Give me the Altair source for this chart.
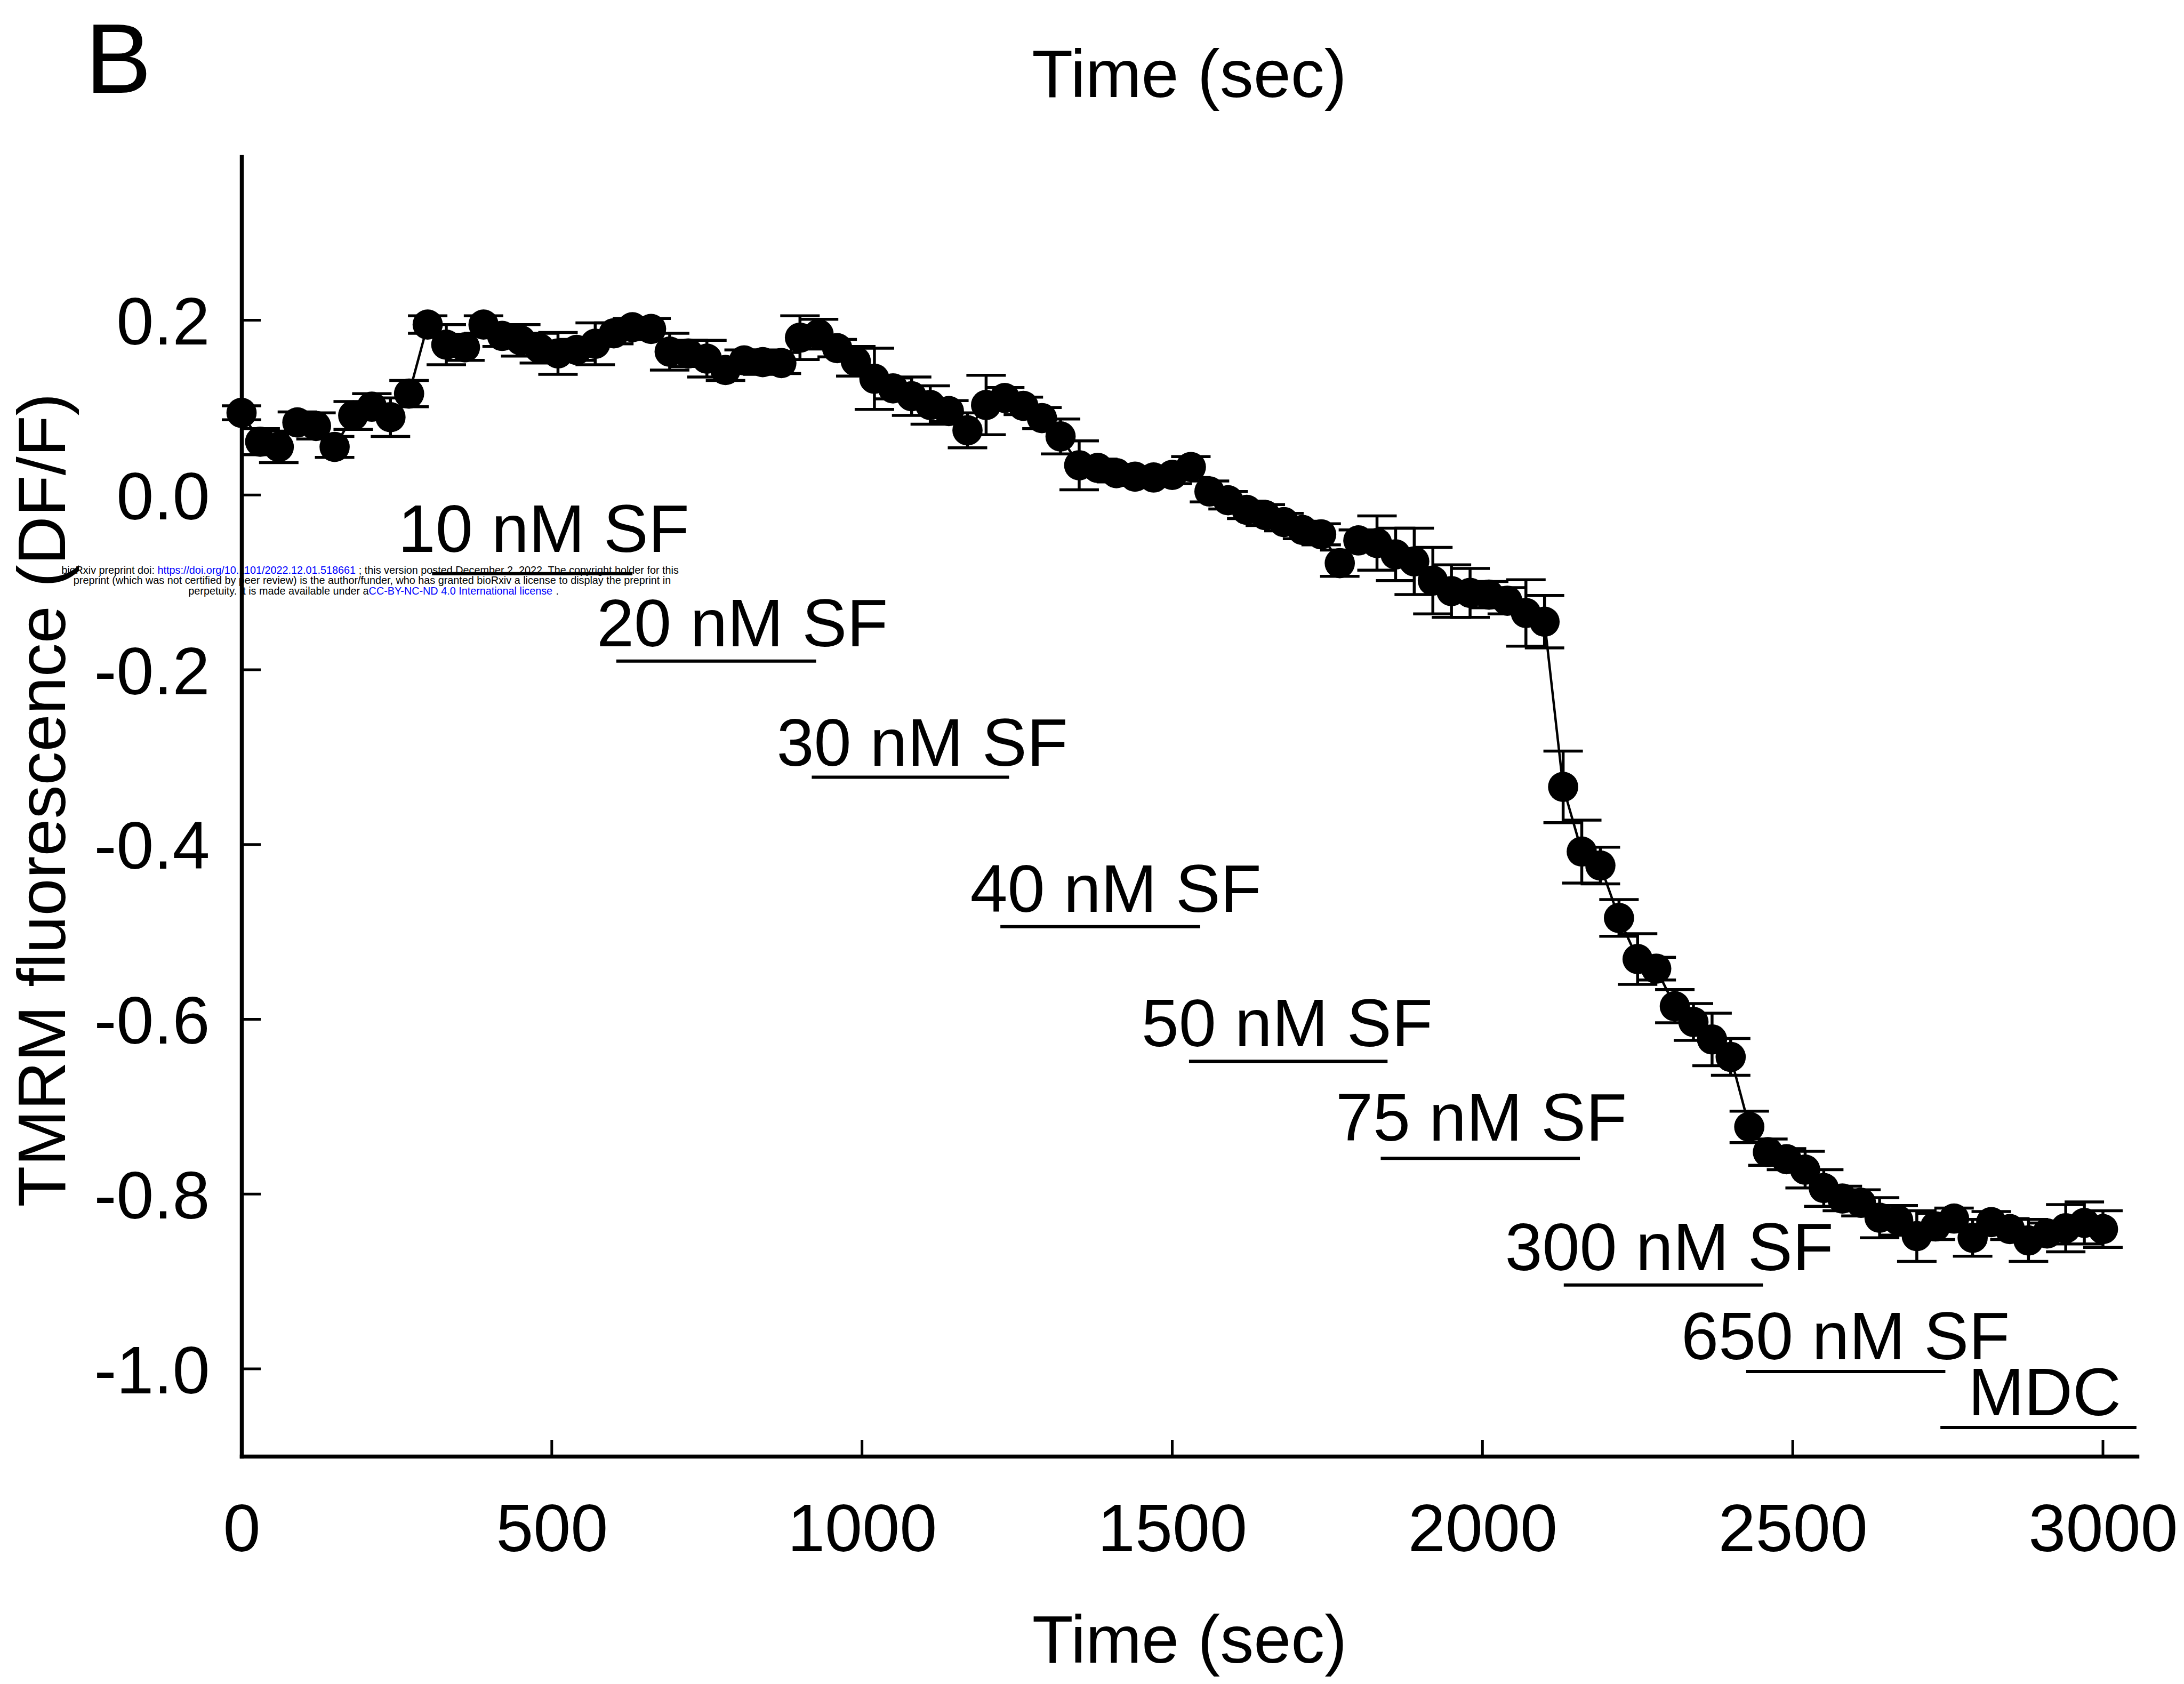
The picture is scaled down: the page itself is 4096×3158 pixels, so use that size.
import altair as alt
import pandas as pd

FONT = "Liberation Sans"
W, H = 3555, 2437

# ---------------- data ----------------
time_s = [0, 30, 60, 90, 120, 150, 180, 210, 240, 270,
          300, 330, 360, 390, 420, 450, 480, 510, 540, 570,
          600, 630, 660, 690, 720, 750, 780, 810, 840, 870,
          900, 930, 960, 990, 1020, 1050, 1080, 1110, 1140, 1170,
          1200, 1230, 1260, 1290, 1320, 1350, 1380, 1410, 1440, 1470,
          1500, 1530, 1560, 1590, 1620, 1650, 1680, 1710, 1740, 1770,
          1800, 1830, 1860, 1890, 1920, 1950, 1980, 2010, 2040, 2070,
          2100, 2130, 2160, 2190, 2220, 2250, 2280, 2310, 2340, 2370,
          2400, 2430, 2460, 2490, 2520, 2550, 2580, 2610, 2640, 2670,
          2700, 2730, 2760, 2790, 2820, 2850, 2880, 2910, 2940, 2970,
          3000]

dff = [0.094, 0.061, 0.055, 0.083, 0.079, 0.055, 0.091, 0.101, 0.089, 0.116,
       0.195, 0.172, 0.169, 0.195, 0.182, 0.177, 0.168, 0.162, 0.166, 0.173,
       0.185, 0.192, 0.190, 0.164, 0.162, 0.156, 0.143, 0.154, 0.152, 0.151,
       0.180, 0.184, 0.168, 0.153, 0.133, 0.122, 0.113, 0.103, 0.096, 0.074,
       0.103, 0.111, 0.102, 0.088, 0.067, 0.034, 0.031, 0.025, 0.021, 0.020,
       0.023, 0.032, 0.004, -0.006, -0.017, -0.023, -0.031, -0.040, -0.045, -0.078,
       -0.052, -0.055, -0.068, -0.076, -0.098, -0.110, -0.112, -0.114, -0.121, -0.135,
       -0.145, -0.334, -0.408, -0.424, -0.484, -0.531, -0.542, -0.585, -0.603, -0.623,
       -0.643, -0.723, -0.752, -0.760, -0.772, -0.793, -0.805, -0.810, -0.827, -0.830,
       -0.848, -0.837, -0.828, -0.850, -0.832, -0.840, -0.853, -0.845, -0.839, -0.833,
       -0.840]

sem = [0.008, 0.015, 0.018, 0.012, 0.015, 0.012, 0.016, 0.015, 0.022, 0.015,
       0.010, 0.023, 0.015, 0.010, 0.012, 0.018, 0.017, 0.024, 0.012, 0.024,
       0.012, 0.010, 0.012, 0.021, 0.015, 0.021, 0.012, 0.012, 0.014, 0.012,
       0.025, 0.017, 0.010, 0.017, 0.035, 0.012, 0.022, 0.022, 0.012, 0.020,
       0.034, 0.012, 0.010, 0.012, 0.020, 0.028, 0.010, 0.010, 0.010, 0.010,
       0.010, 0.012, 0.012, 0.010, 0.010, 0.012, 0.010, 0.010, 0.012, 0.015,
       0.012, 0.031, 0.030, 0.038, 0.038, 0.030, 0.028, 0.015, 0.015, 0.038,
       0.030, 0.041, 0.036, 0.021, 0.021, 0.029, 0.013, 0.019, 0.021, 0.030,
       0.021, 0.018, 0.015, 0.012, 0.021, 0.021, 0.014, 0.015, 0.023, 0.017,
       0.029, 0.015, 0.012, 0.021, 0.012, 0.012, 0.024, 0.012, 0.027, 0.024,
       0.021]

ann_text = ["10 nM SF", "20 nM SF", "30 nM SF", "40 nM SF", "50 nM SF",
            "75 nM SF", "300 nM SF", "650 nM SF", "MDC"]
ann_tx = [487, 807, 1097, 1409, 1685, 1998, 2301, 2585, 2906]
ann_ty = [-0.065, -0.173, -0.310, -0.477, -0.631, -0.739, -0.887, -0.989, -1.053]
bar_start = [307, 604, 919, 1223, 1527, 1836, 2131, 2425, 2738]
bar_end = [630, 926, 1237, 1545, 1847, 2157, 2452, 2746, 3054]
bar_y = [-0.090, -0.190, -0.323, -0.494, -0.648, -0.759, -0.904, -1.003, -1.067]

x_ticks = [0, 500, 1000, 1500, 2000, 2500, 3000]
y_ticks = [-1.0, -0.8, -0.6, -0.4, -0.2, 0.0, 0.2]

assert len(time_s) == len(dff) == len(sem)

df = pd.DataFrame({"t": time_s, "v": dff, "e": sem})
df["lo"] = df["v"] - df["e"]
df["hi"] = df["v"] + df["e"]
ann_df = pd.DataFrame({"label": ann_text, "tx": ann_tx, "ty": ann_ty})
bar_df = pd.DataFrame({"t1": bar_start, "t2": bar_end, "by": bar_y})
xt_df = pd.DataFrame({"xt": x_ticks})
yt_df = pd.DataFrame({"yt": y_ticks})

# ---------------- scales & axes ----------------
x_scale = alt.Scale(domain=[0, 3055], nice=False, zero=False)
y_scale = alt.Scale(domain=[-1.1, 0.387], nice=False, zero=False)

x_axis = alt.Axis(values=x_ticks, format="d", labelFont=FONT, labelFontSize=126,
                  labelColor="black", labelPadding=77, labelFlush=False,
                  labelOverlap=False, labelLimit=0, ticks=False, tickSize=0,
                  domainColor="black", domainWidth=7.5, domainCap="square",
                  grid=False, title="Time (sec)", titleFont=FONT,
                  titleFontSize=126, titleFontWeight="normal", titleColor="black",
                  titleX=W / 2, titleY=386, titleAlign="center",
                  titleBaseline="alphabetic", titleLimit=0, zindex=1)
y_axis = alt.Axis(values=y_ticks,
                  labelExpr="(datum.value < -0.0001 ? '-' : '') + format(abs(datum.value), '.1f')",
                  labelFont=FONT, labelFontSize=126, labelColor="black",
                  labelPadding=60, labelOffset=7, labelFlush=False,
                  labelOverlap=False, labelLimit=0, ticks=False, tickSize=0,
                  domainColor="black", domainWidth=7.5, domainCap="square",
                  grid=False, title="TMRM fluorescence (DF/F)", titleFont=FONT,
                  titleFontSize=126, titleFontWeight="normal", titleColor="black",
                  titleAngle=270, titleX=-332, titleY=1206, titleAlign="center",
                  titleBaseline="alphabetic", titleLimit=0, zindex=1)


def X(f):
    return alt.X(f, type="quantitative", scale=x_scale, axis=x_axis)


def Y(f):
    return alt.Y(f, type="quantitative", scale=y_scale, axis=y_axis)


# ---------------- pixel positioned texts ----------------
def ptext(txt, x, y, size, color="black", align="left"):
    return alt.Chart(pd.DataFrame({"s": [txt]})).mark_text(
        font=FONT, fontSize=size, color=color, align=align,
        baseline="alphabetic", limit=0
    ).encode(x=alt.value(x), y=alt.value(y), text="s:N")


wm = [
    ptext("bioRxiv preprint doi:", -163, 781.6, 19.8, align="right"),
    ptext("https://doi.org/10.1101/2022.12.01.518661", -157.5, 781.6, 19.8, color="#0000ff"),
    ptext("; this version posted December 2, 2022. The copyright holder for this", 219.8, 781.6, 19.8),
    ptext("preprint (which was not certified by peer review) is the author/funder, who has granted bioRxiv a license to display the preprint in",
          245, 801.3, 19.8, align="center"),
    ptext("perpetuity. It is made available under a", 238.6, 821.1, 19.8, align="right"),
    ptext("CC-BY-NC-ND 4.0 International license", 238.6, 821.1, 19.8, color="#0000ff"),
    ptext(".", 589.6, 821.1, 19.8),
]

# ---------------- data layers ----------------
bars = alt.Chart(bar_df).mark_rule(color="black", strokeWidth=6).encode(
    x=X("t1"), x2="t2", y=Y("by"))
labels = alt.Chart(ann_df).mark_text(font=FONT, fontSize=126, color="black",
                                     align="center", baseline="alphabetic").encode(
    x=X("tx"), y=Y("ty"), text="label:N")

base = alt.Chart(df)
stems = base.mark_rule(color="black", strokeWidth=5.5).encode(x=X("t"), y=Y("lo"), y2="hi")
cap_lo = base.mark_tick(color="black", orient="horizontal", size=74, thickness=5.5,
                        opacity=1).encode(x=X("t"), y=Y("lo"))
cap_hi = base.mark_tick(color="black", orient="horizontal", size=74, thickness=5.5,
                        opacity=1).encode(x=X("t"), y=Y("hi"))
line = base.mark_line(color="black", strokeWidth=4.5).encode(x=X("t"), y=Y("v"))
pts = base.mark_circle(color="black", size=3217, opacity=1).encode(x=X("t"), y=Y("v"))

xticks = alt.Chart(xt_df).mark_rule(color="black", strokeWidth=5).encode(
    x=X("xt"), y=alt.value(H - 31), y2=alt.value(H))
yticks = alt.Chart(yt_df).mark_rule(color="black", strokeWidth=5).encode(
    y=Y("yt"), x=alt.value(0), x2=alt.value(36))

top_title = ptext("Time (sec)", W / 2, -112.4, 126, align="center")
panel = ptext("B", -293, -120.5, 186)

chart = alt.layer(
    *wm, bars, labels, stems, cap_lo, cap_hi, line, pts, xticks, yticks, top_title, panel
).properties(
    width=W, height=H,
    autosize=alt.AutoSizeParams(type="none"),
    padding={"left": 453, "top": 294, "right": 88, "bottom": 427},
    background="white",
).configure_view(strokeWidth=0)

chart.save("out.html", embed_options={"renderer": "svg", "actions": False})
